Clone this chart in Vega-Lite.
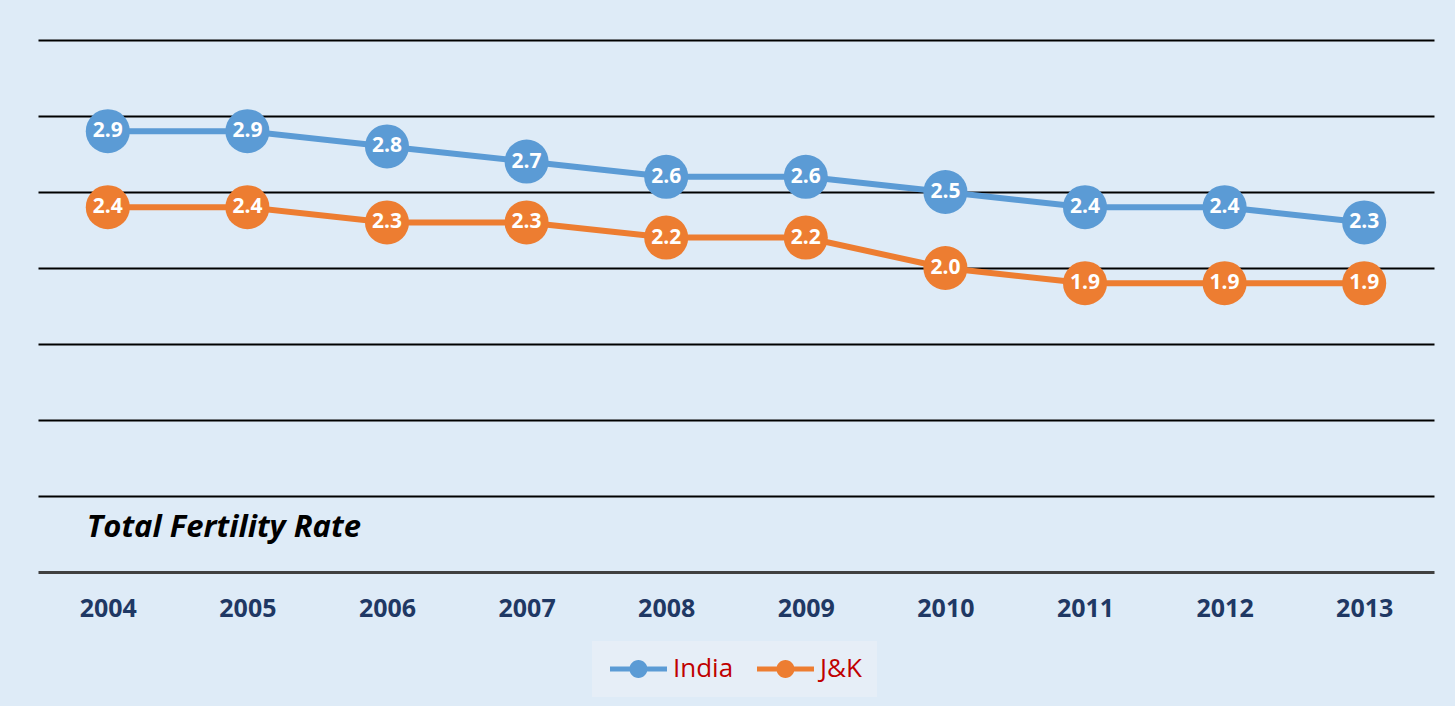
{
  "$schema": "https://vega.github.io/schema/vega-lite/v6.json",
  "width": 1396,
  "height": 532,
  "padding": {"left": 38, "top": 40, "right": 21, "bottom": 10},
  "background": "#deebf7",
  "config": {"view": {"stroke": null}},
  "data": {"values": [
    {"Year": "2004", "Region": "India", "TFR": 2.9},
    {"Year": "2005", "Region": "India", "TFR": 2.9},
    {"Year": "2006", "Region": "India", "TFR": 2.8},
    {"Year": "2007", "Region": "India", "TFR": 2.7},
    {"Year": "2008", "Region": "India", "TFR": 2.6},
    {"Year": "2009", "Region": "India", "TFR": 2.6},
    {"Year": "2010", "Region": "India", "TFR": 2.5},
    {"Year": "2011", "Region": "India", "TFR": 2.4},
    {"Year": "2012", "Region": "India", "TFR": 2.4},
    {"Year": "2013", "Region": "India", "TFR": 2.3},
    {"Year": "2004", "Region": "J&K", "TFR": 2.4},
    {"Year": "2005", "Region": "J&K", "TFR": 2.4},
    {"Year": "2006", "Region": "J&K", "TFR": 2.3},
    {"Year": "2007", "Region": "J&K", "TFR": 2.3},
    {"Year": "2008", "Region": "J&K", "TFR": 2.2},
    {"Year": "2009", "Region": "J&K", "TFR": 2.2},
    {"Year": "2010", "Region": "J&K", "TFR": 2.0},
    {"Year": "2011", "Region": "J&K", "TFR": 1.9},
    {"Year": "2012", "Region": "J&K", "TFR": 1.9},
    {"Year": "2013", "Region": "J&K", "TFR": 1.9}
  ]},
  "layer": [
    {
      "layer": [
        {"mark": {"type": "line", "strokeWidth": 6}},
        {"mark": {"type": "point", "filled": true, "size": 1940, "opacity": 1}},
        {
          "mark": {"type": "text", "font": "Open Sans", "fontWeight": "bold", "fontSize": 21, "baseline": "middle"},
          "encoding": {"text": {"field": "TFR", "format": ".1f"}, "color": {"value": "#ffffff"}}
        }
      ],
      "encoding": {
        "x": {
          "field": "Year", "type": "ordinal",
          "scale": {"type": "point", "padding": 0.5},
          "axis": {
            "title": null, "labelAngle": 0, "ticks": false, "tickSize": 0,
            "domain": true, "domainColor": "#404040", "domainWidth": 3,
            "labelFont": "Open Sans", "labelFontWeight": "bold", "labelFontSize": 25,
            "labelColor": "#1f3864", "labelPadding": 24, "grid": false
          }
        },
        "y": {
          "field": "TFR", "type": "quantitative",
          "scale": {"domain": [0, 3.5], "nice": false},
          "axis": {
            "title": null, "labels": false, "ticks": false, "domain": false,
            "grid": true, "gridColor": "#000000", "gridWidth": 2,
            "values": [0.5, 1, 1.5, 2, 2.5, 3, 3.5]
          }
        },
        "color": {
          "field": "Region", "type": "nominal",
          "scale": {"domain": ["India", "J&K"], "range": ["#5b9bd5", "#ed7d31"]},
          "legend": {
            "title": null, "orient": "none", "direction": "horizontal",
            "legendX": 554, "legendY": 601,
            "symbolType": "M-1.11,-0.28L5.22,-0.28L5.22,0.28L-1.11,0.28Z M3.05,0A1,1,0,1,1,1.05,0A1,1,0,1,1,3.05,0Z",
            "symbolSize": 324, "symbolStrokeWidth": 0, "symbolOpacity": 1,
            "labelFont": "Open Sans", "labelFontSize": 26, "labelColor": "#c00000",
            "labelOffset": 40, "columnPadding": 20,
            "fillColor": "#e6eef7", "padding": 15
          }
        }
      }
    },
    {
      "data": {"values": [{"label": "Total Fertility Rate", "Year": "2004"}]},
      "mark": {"type": "text", "font": "Open Sans", "fontWeight": "bold", "fontStyle": "italic", "fontSize": 31, "align": "left", "baseline": "middle", "dx": -21, "color": "#000000"},
      "encoding": {
        "x": {"field": "Year", "type": "ordinal"},
        "y": {"datum": 0.29, "type": "quantitative"},
        "text": {"field": "label"}
      }
    }
  ]
}
